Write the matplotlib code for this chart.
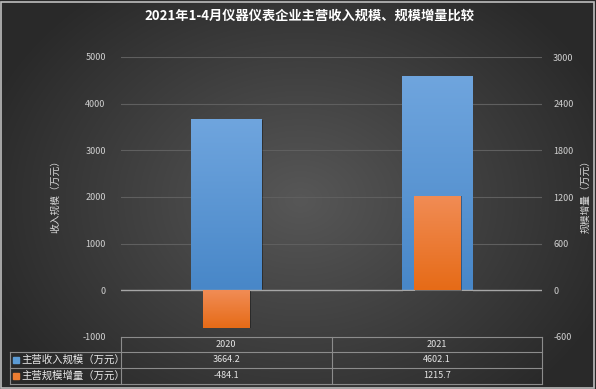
import numpy as np
import matplotlib.pyplot as plt
from matplotlib.colors import LinearSegmentedColormap
from matplotlib.patches import Rectangle

plt.rcParams['font.family'] = ['Noto Sans CJK SC', 'DejaVu Sans']
plt.rcParams['axes.unicode_minus'] = False

# data
years = ['2020', '2021']
revenue = [3664.2, 4602.1]
increase = [-484.1, 1215.7]
series_names = ['主营收入规模（万元）', '主营规模增量（万元）']
title = '2021年1-4月仪器仪表企业主营收入规模、规模增量比较'

W, H = 596, 389
fig = plt.figure(figsize=(W / 100, H / 100), dpi=100)

# dark radial background
bg = fig.add_axes([0, 0, 1, 1], zorder=-10)
yy, xx = np.mgrid[0:H, 0:W]
r = np.sqrt(((xx - 300) / 330) ** 2 + ((yy - 200) / 260) ** 2)
bg_cmap = LinearSegmentedColormap.from_list('bg', ['#575757', '#2a2a2a'])
bg.imshow(np.clip(r, 0, 1), cmap=bg_cmap, aspect='auto', extent=[0, 1, 0, 1], vmin=0, vmax=1)
bg.axis('off')
fig.patches.append(Rectangle((0.002, 0.003), 0.995, 0.993, transform=fig.transFigure,
                             fill=False, edgecolor='#bdbdbd', linewidth=1.2))


def px(x):
    return x / W


def py(y):
    return 1 - y / H


x0, x1, y0, y1 = 121, 542, 57, 337
ax = fig.add_axes([px(x0), py(y1), px(x1) - px(x0), py(y0) - py(y1)])
ax.patch.set_alpha(0)
ax2 = ax.twinx()
ax2.patch.set_alpha(0)

xpos = np.arange(len(years))
blue_bars = ax.bar(xpos, revenue, width=0.333, color='#5b9bd5', zorder=2)
orange_bars = ax2.bar(xpos, increase, width=0.22, color='#ed7d31', zorder=2)


def gradient(axis, bars, top, bottom):
    cm = LinearSegmentedColormap.from_list('g', [bottom, top])
    for b in bars:
        bx, by, bw, bh = b.get_x(), b.get_y(), b.get_width(), b.get_height()
        lo, hi = min(by, by + bh), max(by, by + bh)
        # shadow
        axis.add_patch(Rectangle((bx + 0.008, lo - (hi - lo) * 0.006), bw, hi - lo,
                                 color='black', alpha=0.35, zorder=1.5, linewidth=0))
        im = axis.imshow(np.linspace(0, 1, 100).reshape(-1, 1), cmap=cm, aspect='auto',
                         extent=[bx, bx + bw, lo, hi], origin='lower', zorder=2.1)
        im.set_clip_path(b)


gradient(ax, blue_bars, '#6fa5de', '#4887c8')
gradient(ax2, orange_bars, '#f18c55', '#e66b17')
ax.set_xlim(-0.5, 1.5)
ax.set_ylim(-1000, 5000)
ax2.set_ylim(-600, 3000)
ax.set_yticks(np.arange(-1000, 5001, 1000))
ax2.set_yticks(np.arange(-600, 3001, 600))

for v in range(1000, 5001, 1000):
    ax.axhline(v, color='#5f5f5f', linewidth=0.8, zorder=0)
ax.axhline(0, color='#a6a6a6', linewidth=1, zorder=3)

for a in (ax, ax2):
    for s in a.spines.values():
        s.set_visible(False)
    a.tick_params(length=0, labelsize=6.5, labelcolor='#d0d0d0')
ax.tick_params(axis='y', pad=11)
ax2.tick_params(axis='y', pad=8)
ax.set_xticks([])

ax.set_ylabel('收入规模（万元）', color='#d9d9d9', fontsize=7)
ax.yaxis.set_label_coords((60 - x0) / (x1 - x0), 0.51)
ax2.set_ylabel('规模增量（万元）', color='#d9d9d9', fontsize=7, rotation=90)
ax2.yaxis.set_label_coords((580 - x0) / (x1 - x0), 0.51)

fig.text(px(309), py(16), title, ha='center', va='center', color='white',
         fontsize=9.5, fontweight='bold')

# data table under the plot
line_c = '#8c8c8c'
rows_y = [337, 352, 368, 384]
col_x = [10, 121, 331.5, 542]
tl = dict(transform=fig.transFigure, color=line_c, linewidth=0.8)
fig.add_artist(plt.Line2D([px(col_x[1]), px(col_x[3])], [py(rows_y[0])] * 2, **tl))
for y in rows_y[1:]:
    fig.add_artist(plt.Line2D([px(col_x[0]), px(col_x[3])], [py(y)] * 2, **tl))
for x in col_x[1:]:
    fig.add_artist(plt.Line2D([px(x)] * 2, [py(rows_y[0]), py(rows_y[3])], **tl))
fig.add_artist(plt.Line2D([px(col_x[0])] * 2, [py(rows_y[1]), py(rows_y[3])], **tl))

cell_style = dict(ha='center', va='center', color='#e6e6e6', fontsize=6.5)
for i, yr in enumerate(years):
    cx = (col_x[i + 1] + col_x[i + 2]) / 2
    fig.text(px(cx), py((rows_y[0] + rows_y[1]) / 2), yr, **cell_style)
    fig.text(px(cx), py((rows_y[1] + rows_y[2]) / 2), f'{revenue[i]:.1f}', **cell_style)
    fig.text(px(cx), py((rows_y[2] + rows_y[3]) / 2), f'{increase[i]:.1f}', **cell_style)

for j, (name, c) in enumerate(zip(series_names, ['#5b9bd5', '#ed7d31'])):
    yc = (rows_y[j + 1] + rows_y[j + 2]) / 2
    fig.patches.append(Rectangle((px(13), py(yc + 3)), px(6), 6 / H, transform=fig.transFigure,
                                 color=c))
    fig.text(px(21), py(yc), name, ha='left', va='center', color='#e6e6e6', fontsize=7.5)

fig.savefig('out.png', dpi=100)
